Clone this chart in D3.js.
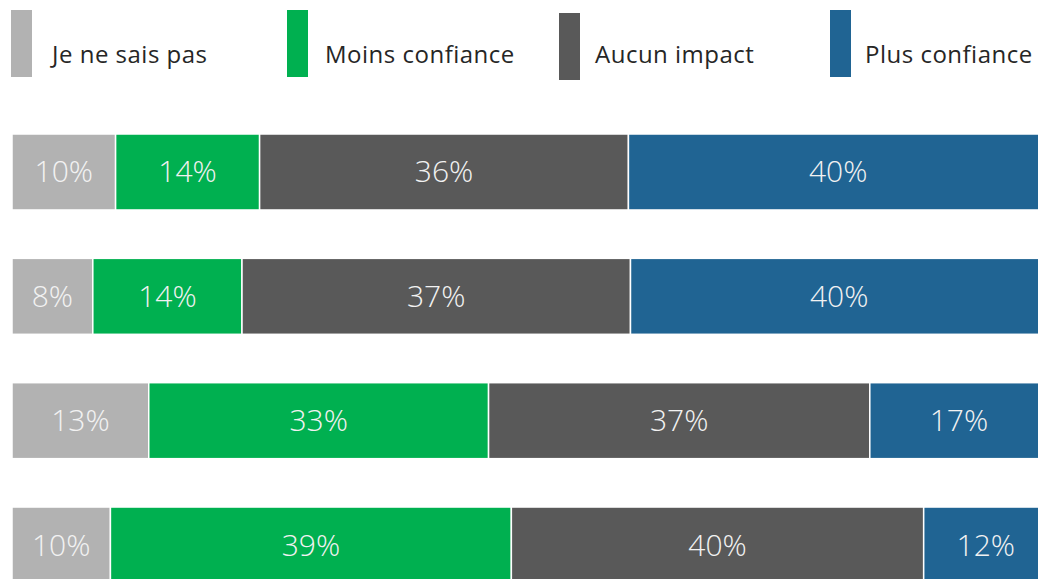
<!DOCTYPE html>
<html><head><meta charset="utf-8">
<script src="https://cdn.jsdelivr.net/npm/d3@7"></script>
<style>html,body{margin:0;padding:0;background:#fff;overflow:hidden}</style>
</head><body>
<svg id="c" width="1038" height="579"></svg>
<script>
const categories = ["Groupe 1", "Groupe 2", "Groupe 3", "Groupe 4"];
const seriesNames = ["Je ne sais pas", "Moins confiance", "Aucun impact", "Plus confiance"];
const seriesColors = ["#B2B2B2", "#00B050", "#595959", "#206493"];
const jeNeSaisPas = [10.0, 7.8, 13.2, 9.5];
const moinsConfiance = [13.9, 14.4, 32.8, 38.7];
const aucunImpact = [35.6, 37.5, 36.8, 39.8];
const plusConfiance = [40.5, 40.3, 17.2, 12.0];
const labelsJe = ["10%", "8%", "13%", "10%"];
const labelsMoins = ["14%", "14%", "33%", "39%"];
const labelsAucun = ["36%", "37%", "37%", "40%"];
const labelsPlus = ["40%", "40%", "17%", "12%"];

const allValues = [jeNeSaisPas, moinsConfiance, aucunImpact, plusConfiance];
const allLabels = [labelsJe, labelsMoins, labelsAucun, labelsPlus];
const keys = ["s0","s1","s2","s3"];
const table = categories.map((c, i) => {
  const o = {cat: c};
  keys.forEach((k, j) => { o[k] = allValues[j][i]; o["l"+j] = allLabels[j][i]; });
  return o;
});

const svg = d3.select("#c");
const x = d3.scaleLinear().domain([0, 100]).range([12, 1048]);
const y = d3.scaleBand().domain(categories).range([134, 583]).paddingInner(0.389).paddingOuter(0);
const color = d3.scaleOrdinal().domain(keys).range(seriesColors);

const stacked = d3.stack().keys(keys)(table);

const g = svg.append("g");
stacked.forEach((layer, j) => {
  const lg = g.append("g");
  lg.selectAll("rect").data(layer).join("rect")
    .attr("x", d => x(d[0]))
    .attr("y", d => y(d.data.cat))
    .attr("width", d => x(d[1]) - x(d[0]))
    .attr("height", y.bandwidth())
    .attr("fill", color(layer.key))
    .attr("stroke", "#fff")
    .attr("stroke-width", 1.5);
  lg.selectAll("text").data(layer).join("text")
    .attr("x", d => (x(d[0]) + x(d[1])) / 2)
    .attr("y", d => y(d.data.cat) + y.bandwidth() / 2)
    .attr("dy", "0.35em")
    .attr("text-anchor", "middle")
    .attr("font-family", "'Open Sans', sans-serif")
    .attr("font-weight", 300)
    .attr("font-size", 30)
    .attr("fill", "#F2F2F2")
    .text(d => d.data["l" + j]);
});

// legend
const legendX = [11, 287, 559, 830];
const legendTextX = [52, 325, 595, 865];
const legendSwY = [10, 10, 13, 10];
const lg = svg.append("g");
seriesNames.forEach((n, i) => {
  lg.append("rect").attr("x", legendX[i]).attr("y", legendSwY[i]).attr("width", 21).attr("height", 67)
    .attr("fill", seriesColors[i]);
  lg.append("text").attr("x", legendTextX[i]).attr("y", 63)
    .attr("font-family", "'Open Sans', sans-serif")
    .attr("font-weight", 400)
    .attr("font-size", 24)
    .attr("letter-spacing", 0.5)
    .attr("fill", "#262626")
    .text(n);
});
</script>
</body></html>
